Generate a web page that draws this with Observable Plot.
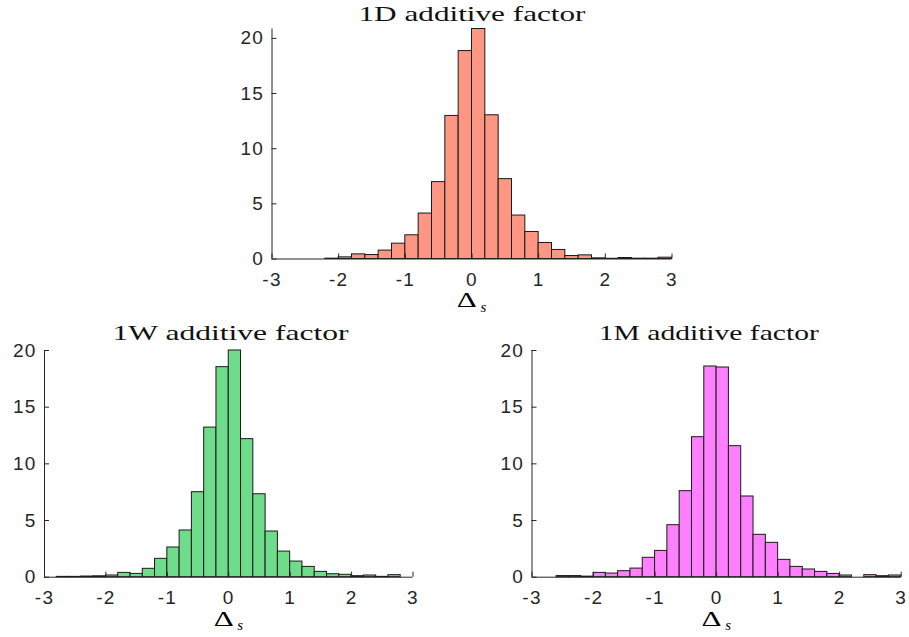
<!DOCTYPE html>
<html>
<head>
<meta charset="utf-8">
<script src="https://cdn.jsdelivr.net/npm/d3@7"></script>
<script src="https://cdn.jsdelivr.net/npm/@observablehq/plot@0.6"></script>
<style>
  html, body { margin: 0; padding: 0; background: #fff; }
  #wrap { position: relative; width: 909px; height: 637px; overflow: hidden; background: #fff; }
  #wrap > div { position: absolute; }
</style>
</head>
<body>
<div id="wrap">
  <div id="c1"></div>
  <div id="c2"></div>
  <div id="c3"></div>
</div>
<script>
// ---- data ----
const binEdges = [-3.0,-2.8,-2.6,-2.4,-2.2,-2.0,-1.8,-1.6,-1.4,-1.2,-1.0,-0.8,-0.6,-0.4,-0.2,
                  0.0,0.2,0.4,0.6,0.8,1.0,1.2,1.4,1.6,1.8,2.0,2.2,2.4,2.6,2.8,3.0];

const values1D = [0,0,0,0,0.03,0.15,0.42,0.36,0.76,1.39,2.15,4.12,6.97,12.97,18.85,
                  20.85,13.03,7.24,3.94,2.45,1.45,0.82,0.27,0.33,0.06,0.02,0.09,0.03,0.03,0.12];
const values1W = [0,0.03,0.03,0.06,0.08,0.15,0.38,0.29,0.74,1.62,2.62,4.12,7.5,13.2,18.53,
                  20.0,12.18,7.32,4.03,2.26,1.38,0.91,0.47,0.26,0.21,0.09,0.15,0.03,0.18,0];
const values1M = [0,0,0.1,0.1,0.05,0.38,0.32,0.53,0.76,1.71,2.32,4.59,7.59,12.35,18.59,
                  18.5,11.56,7.12,3.74,3.03,1.53,0.91,0.68,0.47,0.29,0.15,0,0.18,0.09,0.15];

const titles = ["1D additive factor", "1W additive factor", "1M additive factor"];
const xTicks = [-3,-2,-1,0,1,2,3];
const yTicks = [0,5,10,15,20];
const xLabel = "Δ";
const xLabelSub = "s";

// ---- layout / style ----
const charts = [
  {id: "c1", values: values1D, title: titles[0], fill: "#fd9683", ymax: 20.85,
   left: 0, top: 0, width: 909, height: 320, mL: 271.5, mR: 237.5, mT: 28.5, mB: 61.5,
   tdx: 0, tdy: -8.5, tw: 227, ldx: -5.2, ldy: 48.2, sdx: 11.5, sdy: 52.5},
  {id: "c2", values: values1W, title: titles[1], fill: "#6fdc8c", ymax: 20,
   left: 0, top: 318, width: 454, height: 319, mL: 44, mR: 41.5, mT: 32, mB: 60.3,
   tdx: 1.75, tdy: -11, tw: 236, ldx: -5, ldy: 49, sdx: 11.5, sdy: 53},
  {id: "c3", values: values1M, title: titles[2], fill: "#ff80ff", ymax: 20,
   left: 454, top: 318, width: 455, height: 319, mL: 77.5, mR: 8.3, mT: 32, mB: 60.3,
   tdx: -7.8, tdy: -11, tw: 220, ldx: -5, ldy: 49, sdx: 11.5, sdy: 53}
];

const axisColor = "#262626";

for (const c of charts) {
  const rows = c.values.map((v, i) => ({x0: binEdges[i], x1: binEdges[i + 1], y: v}));
  const svg = Plot.plot({
    width: c.width, height: c.height,
    marginLeft: c.mL, marginRight: c.mR, marginTop: c.mT, marginBottom: c.mB,
    x: {domain: [xTicks[0], xTicks[xTicks.length - 1]]},
    y: {domain: [0, c.ymax]},
    style: {fontFamily: "'Liberation Sans', Arial, sans-serif", fontSize: "19px",
            color: axisColor, background: "transparent", overflow: "visible", letterSpacing: "1.2px"},
    marks: [
      Plot.rectY(rows, {x1: "x0", x2: "x1", y: "y", fill: c.fill, stroke: "#1a1a1a", strokeWidth: 1}),
      Plot.ruleY([0], {stroke: axisColor, strokeWidth: 1}),
      Plot.ruleX([xTicks[0]], {stroke: axisColor, strokeWidth: 1}),
      Plot.ruleX(xTicks, {x: d => d, y1: 0, y2: 0, insetTop: -5, stroke: axisColor}),
      Plot.ruleY(yTicks.filter(d => d <= c.ymax), {y: d => d, x1: xTicks[0], x2: xTicks[0], insetRight: -5, stroke: axisColor}),
      Plot.axisX({ticks: xTicks, tickSize: 0, tickPadding: 13, label: null, tickFormat: d => String(d), fill: axisColor}),
      Plot.axisY({ticks: yTicks, tickSize: 0, tickPadding: 8, label: null, tickFormat: d => String(d), fill: axisColor}),
      Plot.text([c.title], {frameAnchor: "top", lineAnchor: "bottom", dx: c.tdx, dy: c.tdy,
        fontFamily: "'Liberation Serif', 'Times New Roman', serif", fontSize: 21, fill: "#111"}),
      Plot.text([xLabel], {frameAnchor: "bottom", lineAnchor: "bottom", dx: c.ldx, dy: c.ldy,
        fontFamily: "'Liberation Serif', serif", fontSize: 20, fill: "#000"}),
      Plot.text([xLabelSub], {frameAnchor: "bottom", lineAnchor: "bottom", dx: c.sdx, dy: c.sdy,
        fontFamily: "'Liberation Serif', serif", fontSize: 15, fontStyle: "italic", fill: "#000"})
    ]
  });
  d3.select(svg).selectAll("text").each(function () {
    const t = this.textContent;
    if (t === c.title) {
      this.setAttribute("textLength", c.tw);
      this.setAttribute("lengthAdjust", "spacingAndGlyphs");
      this.style.letterSpacing = "0px";
    } else if (t === xLabel) {
      this.setAttribute("textLength", 20);
      this.setAttribute("lengthAdjust", "spacingAndGlyphs");
      this.style.letterSpacing = "0px";
    } else if (t === xLabelSub) {
      this.style.letterSpacing = "0px";
    }
  });
  const el = document.getElementById(c.id);
  el.style.left = c.left + "px";
  el.style.top = c.top + "px";
  el.appendChild(svg);
}
</script>
</body>
</html>
